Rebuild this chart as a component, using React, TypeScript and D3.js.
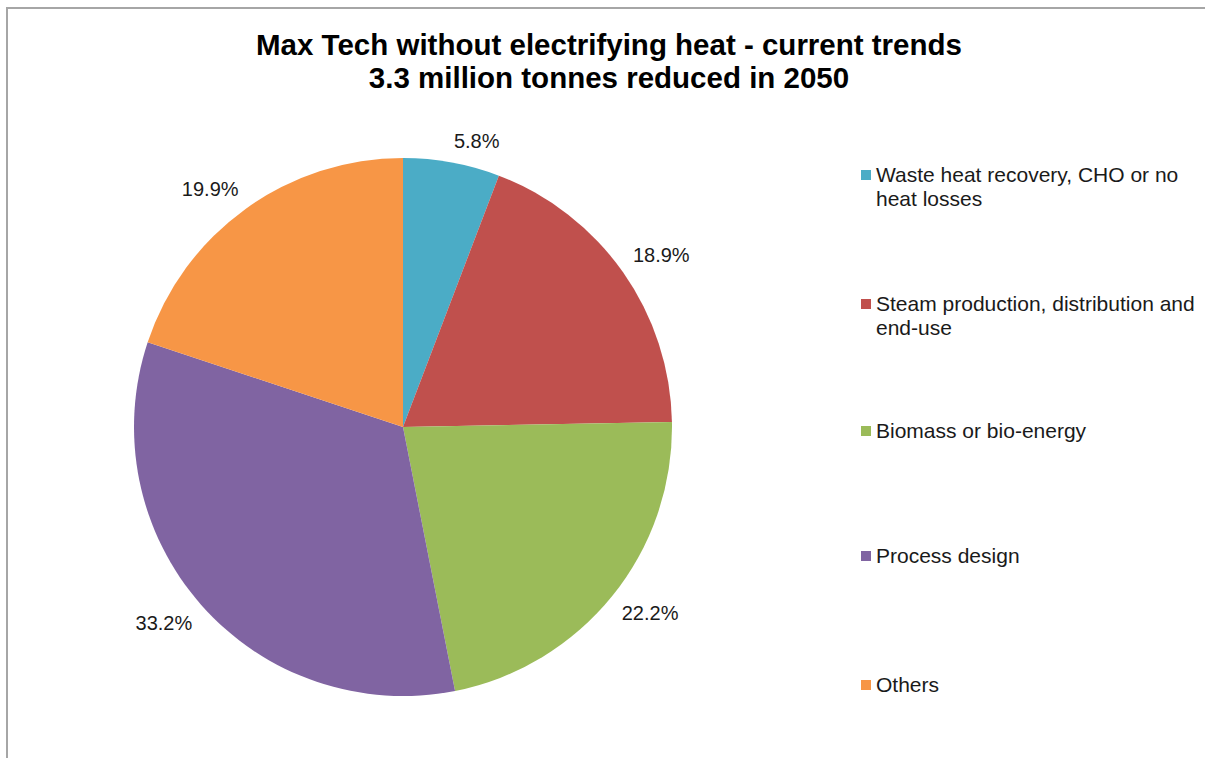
import React from "react";
import * as d3 from "d3";

const categories = [
  "Waste heat recovery, CHO or no heat losses",
  "Steam production, distribution and end-use",
  "Biomass or bio-energy",
  "Process design",
  "Others",
];
const legendLines = [
  ["Waste heat recovery, CHO or no", "heat losses"],
  ["Steam production, distribution and", "end-use"],
  ["Biomass or bio-energy"],
  ["Process design"],
  ["Others"],
];
const values = [5.8, 18.9, 22.2, 33.2, 19.9];
const colors = ["#4bacc6", "#c0504d", "#9bbb59", "#8064a2", "#f79646"];
const titleLines = [
  "Max Tech without electrifying heat - current trends",
  "3.3 million tonnes reduced in 2050",
];

const W = 1205;
const H = 758;
const cx = 403;
const cy = 427;
const radius = 269;
const labelFont = 20;
const legendYs = [175, 304, 431, 556, 685];

function approxWidth(s: string, size: number) {
  // rough Arial advance widths for digits, point and percent sign
  let w = 0;
  for (const ch of s) {
    if (ch === ".") w += 0.278;
    else if (ch === "%") w += 0.889;
    else w += 0.556;
  }
  return w * size;
}

export default function App() {
  const pie = d3
    .pie<number>()
    .sort(null)
    .value((d) => d);
  const arcs = pie(values);
  const arcGen = d3.arc<d3.PieArcDatum<number>>().innerRadius(0).outerRadius(radius);
  const gap = 12;

  return (
    <svg
      width={W}
      height={H}
      style={{ position: "absolute", left: 0, top: 0, background: "#fff" }}
      fontFamily="'Liberation Sans', Arial, sans-serif"
    >
      <rect x={7} y={8} width={W + 20} height={H + 20} fill="#fff" stroke="#a6a6a6" strokeWidth={2} />
      <g fontWeight="bold" fontSize={29.5} textAnchor="middle" fill="#000">
        {titleLines.map((t, i) => (
          <text key={i} x={609} y={55 + i * 32.5}>
            {t}
          </text>
        ))}
      </g>
      <g transform={`translate(${cx},${cy})`}>
        {arcs.map((a, i) => (
          <path key={i} d={arcGen(a) || ""} fill={colors[i]} />
        ))}
        {arcs.map((a, i) => {
          const mid = (a.startAngle + a.endAngle) / 2;
          const sx = Math.sin(mid);
          const sy = -Math.cos(mid);
          const label = `${values[i].toFixed(1)}%`;
          const w = approxWidth(label, labelFont);
          const h = labelFont;
          // nearest label corner touches a circle just outside the pie
          const px = (radius + gap) * sx;
          const py = (radius + gap) * sy;
          const lx = px + Math.sign(sx) * w / 2;
          const ly = py + Math.sign(sy) * h / 2;
          return (
            <text
              key={i}
              x={lx}
              y={ly + 7}
              textAnchor="middle"
              fontSize={labelFont}
              fill="#1a1a1a"
            >
              {label}
            </text>
          );
        })}
      </g>
      <g fontSize={21} fill="#1a1a1a">
        {categories.map((c, i) => (
          <g key={c}>
            <rect x={861} y={legendYs[i] - 5} width={10} height={10} fill={colors[i]} />
            {legendLines[i].map((ln, j) => (
              <text key={j} x={876} y={legendYs[i] + 7 + j * 24}>
                {ln}
              </text>
            ))}
          </g>
        ))}
      </g>
    </svg>
  );
}
